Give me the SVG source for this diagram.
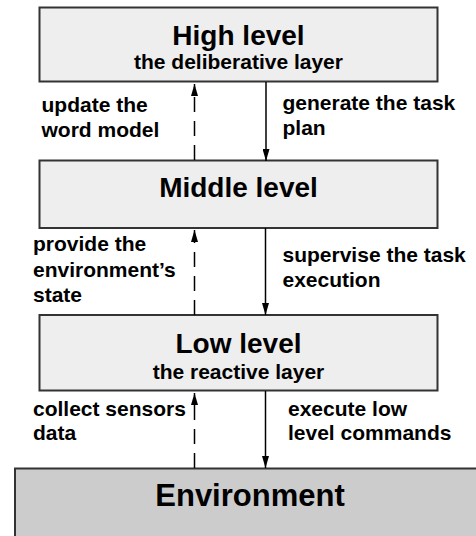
<svg xmlns="http://www.w3.org/2000/svg" width="476" height="536" viewBox="0 0 476 536">
  <defs>
    <style>
      .box { fill: #eeeeee; stroke: #333333; stroke-width: 2; }
      .env { fill: #cccccc; stroke: #333333; stroke-width: 2; }
      text { font-family: "Liberation Sans", Arial, sans-serif; font-weight: bold; fill: #000000; }
      .title { font-size: 28px; text-anchor: middle; }
      .sub { font-size: 21px; text-anchor: middle; }
      .lbl { font-size: 21px; }
      .solid { stroke: #000000; stroke-width: 1.5; fill: none; }
      .dash { stroke: #000000; stroke-width: 1.5; fill: none; stroke-dasharray: 15 9; }
    </style>
    <marker id="head" viewBox="0 0 10 10" refX="10" refY="5" markerWidth="12" markerHeight="7" markerUnits="userSpaceOnUse" orient="auto" preserveAspectRatio="none">
      <path d="M0,0 L10,5 L0,10 z" fill="#000000"/>
    </marker>
  </defs>

  <g id="high-level">
    <rect class="box" x="39.5" y="7.5" width="398" height="74"/>
    <text class="title" x="238.5" y="45">High level</text>
    <text class="sub" x="238.5" y="69">the deliberative layer</text>
  </g>

  <g id="middle-level">
    <rect class="box" x="39.5" y="160.5" width="398" height="67.5"/>
    <text class="title" x="238.5" y="197">Middle level</text>
  </g>

  <g id="low-level">
    <rect class="box" x="39.5" y="315" width="398" height="75.5"/>
    <text class="title" x="238.5" y="352.5">Low level</text>
    <text class="sub" x="238.5" y="379">the reactive layer</text>
  </g>

  <g id="environment">
    <rect class="env" x="15" y="468.5" width="470" height="70"/>
    <text class="title" x="250" y="506" style="font-size:31px">Environment</text>
  </g>

  <g id="connectors">
    <!-- feedback (dashed, upward) -->
    <path class="dash" d="M194.5,160 L194.5,84" marker-end="url(#head)"/>
    <path class="dash" d="M194.5,315 L194.5,230" marker-end="url(#head)"/>
    <path class="dash" d="M194.5,468 L194.5,393" marker-end="url(#head)"/>
    <!-- commands (solid, downward) -->
    <path class="solid" d="M266,82 L266,161" marker-end="url(#head)"/>
    <path class="solid" d="M265.5,228 L265.5,315" marker-end="url(#head)"/>
    <path class="solid" d="M265.5,391 L265.5,468" marker-end="url(#head)"/>
  </g>

  <g id="labels">
    <text class="lbl" x="41.5" y="111.5">update the</text>
    <text class="lbl" x="41.5" y="136.5">word model</text>
    <text class="lbl" x="282.5" y="110">generate the task</text>
    <text class="lbl" x="282.5" y="135">plan</text>

    <text class="lbl" x="33" y="251">provide the</text>
    <text class="lbl" x="33" y="276.5">environment’s</text>
    <text class="lbl" x="33" y="301.5">state</text>
    <text class="lbl" x="282.5" y="261.5">supervise the task</text>
    <text class="lbl" x="282.5" y="286.5">execution</text>

    <text class="lbl" x="33" y="415.5">collect sensors</text>
    <text class="lbl" x="33" y="440">data</text>
    <text class="lbl" x="288" y="415.5">execute low</text>
    <text class="lbl" x="288" y="440">level commands</text>
  </g>
</svg>
